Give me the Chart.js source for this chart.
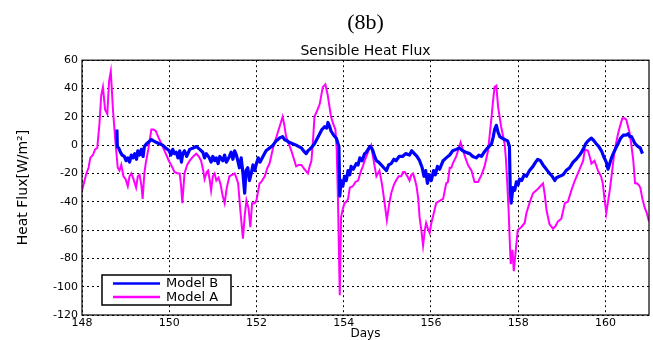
<!DOCTYPE html>
<html>
<head>
<meta charset="utf-8">
<script src="https://cdn.jsdelivr.net/npm/chart.js@4.4.1/dist/chart.umd.min.js"></script>
<style>
  html, body { margin: 0; padding: 0; background: #ffffff; }
  #wrap { width: 653px; height: 340px; }
</style>
</head>
<body>
<div id="wrap"><canvas id="c" width="653" height="340"></canvas></div>
<script>
// ---- Data ----
const xTicks = [148, 150, 152, 154, 156, 158, 160];
const yTicks = [-120, -100, -80, -60, -40, -20, 0, 20, 40, 60];

// Model A (magenta)
const modelADays = [148.00,148.05,148.10,148.15,148.19,148.25,148.30,148.35,148.40,148.44,148.48,148.53,148.58,148.62,148.66,148.71,148.77,148.82,148.86,148.90,148.95,149.00,149.05,149.09,149.13,149.17,149.24,149.28,149.32,149.36,149.39,149.43,149.46,149.52,149.59,149.64,149.69,149.76,149.85,149.92,149.99,150.06,150.12,150.20,150.24,150.27,150.30,150.35,150.41,150.47,150.55,150.62,150.68,150.73,150.78,150.81,150.86,150.89,150.93,150.96,151.00,151.04,151.08,151.13,151.18,151.22,151.27,151.32,151.38,151.44,151.50,151.55,151.58,151.63,151.69,151.73,151.77,151.82,151.86,151.90,151.96,152.00,152.07,152.11,152.19,152.25,152.30,152.38,152.45,152.53,152.60,152.64,152.68,152.74,152.80,152.86,152.91,152.97,153.03,153.10,153.18,153.22,153.26,153.30,153.33,153.40,153.45,153.52,153.58,153.63,153.67,153.71,153.76,153.81,153.84,153.87,153.91,153.94,153.98,154.02,154.06,154.10,154.14,154.21,154.27,154.33,154.40,154.44,154.48,154.52,154.58,154.63,154.67,154.71,154.75,154.82,154.88,154.93,154.99,155.04,155.09,155.15,155.20,155.26,155.32,155.36,155.40,155.46,155.51,155.55,155.59,155.63,155.67,155.71,155.74,155.78,155.82,155.86,155.89,155.93,155.97,156.01,156.05,156.12,156.16,156.22,156.28,156.35,156.39,156.43,156.47,156.50,156.58,156.62,156.68,156.73,156.79,156.85,156.93,157.00,157.08,157.16,157.23,157.31,157.35,157.39,157.43,157.46,157.50,157.54,157.61,157.69,157.72,157.75,157.78,157.80,157.83,157.87,157.90,157.94,157.99,158.07,158.15,158.19,158.26,158.34,158.45,158.57,158.61,158.65,158.72,158.80,158.86,158.91,158.99,159.07,159.14,159.22,159.30,159.41,159.49,159.53,159.60,159.64,159.68,159.75,159.83,159.90,159.94,159.98,160.02,160.06,160.10,160.14,160.21,160.29,160.35,160.39,160.44,160.48,160.52,160.56,160.60,160.64,160.68,160.72,160.76,160.80,160.85,160.90,160.95,161.00];
const modelAFlux = [-32,-26,-20,-16,-9,-7,-3,-2,15,35,41,25,22,45,52,25,1,-16,-18,-14,-22,-24,-29,-22,-20,-23,-30,-22,-21,-28,-38,-20,-13,-3,11,11,10,5,-1,-6,-11,-15,-19,-20,-20,-28,-41,-20,-14,-11,-8,-6,-8,-11,-18,-24,-19,-18,-25,-32,-22,-20,-25,-23,-28,-35,-41,-30,-22,-21,-20,-24,-27,-46,-66,-50,-39,-45,-58,-41,-41,-39,-27,-26,-22,-16,-13,-2,5,13,20,14,6,1,-4,-10,-15,-14,-14,-17,-20,-15,-11,5,20,25,29,41,43,36,28,20,15,11,-3,-40,-106,-51,-45,-41,-40,-38,-30,-29,-26,-25,-18,-15,-11,-8,-3,0,-8,-15,-22,-18,-28,-39,-53,-42,-34,-28,-25,-22,-22,-19,-19,-22,-25,-21,-20,-24,-29,-38,-51,-60,-71,-60,-55,-59,-62,-55,-50,-41,-40,-39,-38,-27,-26,-16,-16,-13,-8,-4,2,-3,-9,-14,-18,-26,-26,-21,-15,-4,8,20,33,41,42,27,13,1,-10,-27,-45,-62,-84,-74,-89,-76,-60,-58,-55,-48,-41,-34,-31,-27,-35,-46,-56,-59,-57,-54,-52,-41,-40,-32,-25,-17,-11,-3,-4,-8,-13,-11,-18,-22,-27,-38,-48,-40,-32,-22,-4,8,15,19,19,18,13,8,-1,-11,-27,-27,-28,-30,-38,-44,-48,-54];

// Model B (blue)
const modelBDays = [148.80,148.81,148.84,148.88,148.92,148.97,149.01,149.05,149.09,149.13,149.17,149.21,149.25,149.28,149.32,149.36,149.40,149.43,149.48,149.52,149.59,149.64,149.70,149.77,149.85,149.92,150.00,150.04,150.08,150.12,150.16,150.20,150.24,150.28,150.31,150.35,150.40,150.47,150.55,150.62,150.70,150.77,150.81,150.85,150.92,150.96,151.00,151.04,151.08,151.12,151.16,151.23,151.27,151.31,151.38,151.42,151.46,151.50,151.54,151.58,151.61,151.65,151.69,151.73,151.76,151.80,151.84,151.88,151.92,151.96,152.00,152.04,152.08,152.15,152.22,152.30,152.38,152.45,152.53,152.60,152.64,152.70,152.75,152.83,152.91,152.97,153.03,153.08,153.14,153.18,153.22,153.28,153.33,153.40,153.45,153.50,153.56,153.61,153.64,153.68,153.71,153.77,153.83,153.89,153.91,153.94,153.98,154.02,154.06,154.10,154.14,154.17,154.22,154.29,154.33,154.37,154.42,154.48,154.52,154.56,154.60,154.64,154.67,154.71,154.75,154.80,154.86,154.92,154.98,155.03,155.09,155.15,155.20,155.27,155.35,155.42,155.51,155.56,155.62,155.68,155.74,155.80,155.84,155.88,155.92,155.97,156.01,156.06,156.10,156.15,156.20,156.28,156.35,156.43,156.50,156.58,156.65,156.73,156.80,156.89,156.96,157.04,157.10,157.16,157.22,157.27,157.33,157.39,157.43,157.46,157.50,157.54,157.58,157.63,157.69,157.76,157.80,157.82,157.84,157.88,157.92,157.96,158.00,158.03,158.08,158.14,158.19,158.26,158.34,158.40,158.45,158.51,158.57,158.62,158.67,158.72,158.78,158.84,158.88,158.95,159.03,159.10,159.18,159.26,159.33,159.41,159.49,159.55,159.60,159.68,159.74,159.79,159.85,159.91,159.96,160.02,160.06,160.10,160.14,160.18,160.24,160.29,160.35,160.41,160.47,160.52,160.56,160.60,160.68,160.75,160.80,160.85];
const modelBFlux = [11,-1,-2,-5,-7,-8,-11,-9,-12,-7,-9,-6,-10,-4,-7,-3,-8,-1,1,2,4,3,2,1,0,-2,-4,-7,-3,-6,-5,-9,-4,-12,-6,-4,-8,-3,-2,-1,-3,-5,-9,-6,-9,-12,-8,-11,-9,-13,-8,-11,-7,-12,-8,-5,-10,-4,-7,-12,-16,-9,-20,-34,-18,-16,-25,-20,-14,-18,-13,-9,-12,-8,-4,-2,0,3,5,6,4,3,2,1,0,-1,-2,-4,-6,-4,-3,-1,1,5,8,11,13,12,16,13,10,7,5,-1,-36,-25,-29,-22,-25,-18,-21,-15,-17,-13,-14,-9,-11,-6,-5,-3,-1,-2,-4,-8,-11,-12,-14,-16,-18,-14,-13,-10,-11,-8,-8,-6,-7,-4,-6,-8,-11,-16,-22,-18,-27,-21,-25,-18,-21,-15,-17,-11,-9,-7,-4,-3,-2,-4,-5,-6,-8,-9,-7,-8,-5,-3,-1,1,6,11,14,9,6,5,4,3,-1,-34,-41,-30,-32,-26,-28,-24,-25,-21,-22,-18,-15,-12,-10,-11,-14,-16,-18,-20,-22,-25,-23,-22,-21,-18,-16,-12,-10,-7,-3,1,3,5,3,1,-1,-4,-8,-12,-17,-13,-9,-6,-2,1,5,7,7,8,6,6,1,-1,-2,-6];

const seriesNames = ['Model B', 'Model A'];
const seriesColors = ['#0000ff', '#ff00ff'];

const toPoints = (xs, ys) => xs.map((x, i) => ({ x: x, y: ys[i] }));

const SANS = '"DejaVu Sans", "Liberation Sans", sans-serif';

// Box around the plot and an in-plot legend (MATLAB style)
const matlabDecor = {
  id: 'matlabDecor',
  afterDraw(chart) {
    const ctx = chart.ctx;
    const a = chart.chartArea;
    ctx.save();
    ctx.strokeStyle = '#000';
    ctx.lineWidth = 1.2;
    ctx.strokeRect(a.left, a.top, a.right - a.left, a.bottom - a.top);

    // legend box
    const bx = a.left + 20, by = a.bottom - 40, bw = 129, bh = 30;
    ctx.fillStyle = '#fff';
    ctx.fillRect(bx, by, bw, bh);
    ctx.lineWidth = 1.5;
    ctx.strokeRect(bx, by, bw, bh);
    ctx.font = '13px ' + SANS;
    ctx.textBaseline = 'middle';
    ctx.textAlign = 'left';
    chart.data.datasets.forEach((ds, i) => {
      const ly = by + 8.5 + i * 13.5;
      ctx.strokeStyle = ds.borderColor;
      ctx.lineWidth = 2.5;
      ctx.beginPath();
      ctx.moveTo(bx + 11, ly);
      ctx.lineTo(bx + 58, ly);
      ctx.stroke();
      ctx.fillStyle = '#000';
      ctx.fillText(ds.label, bx + 64, ly + 0.5);
    });
    ctx.restore();
  }
};

new Chart(document.getElementById('c'), {
  type: 'line',
  data: {
    datasets: [
      { label: seriesNames[0], data: toPoints(modelBDays, modelBFlux), borderColor: seriesColors[0], backgroundColor: seriesColors[0], borderWidth: 3.2, borderJoinStyle: 'round', pointRadius: 0, tension: 0 },
      { label: seriesNames[1], data: toPoints(modelADays, modelAFlux), borderColor: seriesColors[1], backgroundColor: seriesColors[1], borderWidth: 2, pointRadius: 0, tension: 0 }
    ]
  },
  options: {
    responsive: false,
    animation: false,
    devicePixelRatio: 1,
    layout: { padding: { top: 2, right: 4, bottom: 0, left: 0 } },
    plugins: {
      legend: { display: false },
      tooltip: { enabled: false },
      title: {
        display: true, text: '(8b)', color: '#000', fullSize: false,
        font: { family: '"Liberation Serif", "Times New Roman", serif', size: 22, weight: 'normal', lineHeight: 1.2 },
        padding: { top: 8, bottom: 0 }
      },
      subtitle: {
        display: true, text: 'Sensible Heat Flux', color: '#000', fullSize: false,
        font: { family: SANS, size: 14, weight: 'normal', lineHeight: 1.2 },
        padding: { top: 7, bottom: 0 }
      }
    },
    scales: {
      x: {
        type: 'linear', min: 148, max: 161,
        afterBuildTicks: (s) => { s.ticks = xTicks.map(v => ({ value: v })); },
        afterFit: (s) => { s.height = 25; },
        ticks: { color: '#000', font: { family: SANS, size: 11 }, padding: 2, maxRotation: 0, autoSkip: false },
        grid: { color: '#000', lineWidth: 1, drawTicks: false },
        border: { display: false, dash: [2, 3] },
        title: { display: true, text: 'Days', color: '#000', font: { family: SANS, size: 12, lineHeight: 1 }, padding: { top: 0, bottom: 0 } }
      },
      y: {
        type: 'linear', min: -120, max: 60,
        afterBuildTicks: (s) => { s.ticks = yTicks.map(v => ({ value: v })); },
        afterFit: (s) => { s.width = 82; },
        ticks: { color: '#000', font: { family: SANS, size: 11 }, padding: 4, autoSkip: false },
        grid: { color: '#000', lineWidth: 1, drawTicks: false },
        border: { display: false, dash: [2, 3] },
        title: { display: true, text: 'Heat Flux[W/m²]', color: '#000', font: { family: SANS, size: 14, lineHeight: 1.2 }, padding: { top: 15, bottom: 0 } }
      }
    }
  },
  plugins: [matlabDecor]
});
</script>
</body>
</html>
